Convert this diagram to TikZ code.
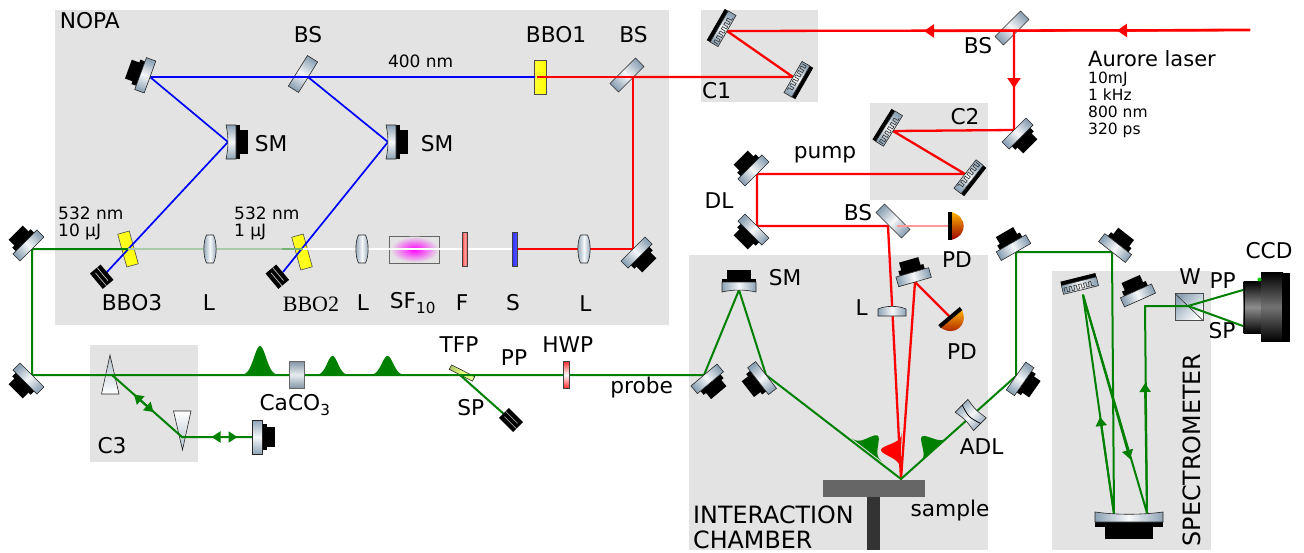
\documentclass[tikz,border=0pt]{standalone}
\usepackage{fontspec}
\setmainfont{DejaVu Sans}
\newfontfamily\bboserif{Liberation Serif}
\usepackage{tikz}
\usetikzlibrary{arrows.meta,calc}
\definecolor{panelgray}{HTML}{E3E3E3}
\definecolor{steel}{HTML}{8EA3B5}
\definecolor{beamgreen}{HTML}{008000}
\definecolor{fadegreen}{HTML}{A9CBA9}
\tikzset{
    steelbody/.style={left color=steel, right color=steel, middle color=white!92!steel, shading angle=#1+90, draw=black!85, line width=0.6pt},
    pics/mirror/.style={code={
        \begin{scope}[rotate=#1]
        \fill[black] (-13,-10) rectangle (13,-15);
        \fill[black] (-10,-14) rectangle (10,-23);
        \draw[steelbody=#1] (-17,0) rectangle (17,-10);
        \end{scope}}},
    pics/cmirror/.style={code={
        \begin{scope}[rotate=#1]
        \fill[black] (-17,-8) rectangle (17,-11.5);
        \fill[black] (-12,-11) rectangle (12,-20);
        \draw[steelbody=#1] (-17,2) .. controls (-6,-0.6) and (6,-0.6) .. (17,2) -- (17,-8) -- (-17,-8) -- cycle;
        \end{scope}}},
    pics/grating/.style={code={
        \begin{scope}[rotate=#1]
        \fill[black] (-18,-9) rectangle (18,-13);
        \draw[steelbody=#1] (-18,0) rectangle (18,-9);
        \foreach \i in {-16,-11,...,9} {
            \draw[black!80, line width=0.6pt] (\i,-1.5) -- (\i,-6) -- (\i+2.5,-6) -- (\i+2.5,-1.5) -- (\i+5,-1.5);
        }
        \end{scope}}},
    pics/plate/.style={code={
        \draw[steelbody=#1, rotate=#1] (-18,-6) rectangle (18,6);}},
    pics/crystal/.style={code={
        \draw[rotate=#1, left color=yellow!80!white, right color=yellow, shading angle=#1+90, draw=black!70, line width=0.6pt] (-6,-17) rectangle (6,17);}},
    pics/lens/.style={code={
        \draw[steelbody=0] (-3.5,-14) .. controls (-7,-7) and (-7,7) .. (-3.5,14) -- (3.5,14) .. controls (7,7) and (7,-7) .. (3.5,-14) -- cycle;}},
    pics/halflens/.style={code={
        \draw[steelbody=0] (-14,5) -- (14,5) -- (14,-2) .. controls (7,-5.5) and (-7,-5.5) .. (-14,-2) -- cycle;}},
    pics/dump/.style={code={
        \begin{scope}[rotate=#1]
        \fill[black] (-10,-7) rectangle (10,7);
        \draw[black!25, line width=0.7pt] (-10,-2.3) -- (7,-2.3) (-7,2.3) -- (10,2.3);
        \end{scope}}},
    pics/pdiode/.style={code={
        \begin{scope}[rotate=#1]
        \shade[top color=orange!60!yellow, bottom color=red!60!black] (-14,-3) .. controls (-10,-20) and (10,-20) .. (14,-3) -- cycle;
        \fill[black] (-14,0) rectangle (14,-4);
        \end{scope}}},
    pics/adl/.style={code={
        \begin{scope}[rotate=#1]
        \draw[steelbody=#1] (-13,-9) .. controls (0,-7) .. (13,-9) -- (13,9) .. controls (0,7) .. (-13,9) -- cycle;
        \draw[black, line width=0.8pt] (-13,-1) .. controls (0,3) .. (13,-1);
        \end{scope}}},
    pics/gauss/.style={code={
        \path[pic actions] plot[domain=-1:1, samples=40, smooth] (\x,{-exp(-5*\x*\x)}) -- cycle;}}
}
\begin{document}
\begin{tikzpicture}[
    x=1pt, y=-1pt,
    every node/.style={inner sep=0pt},
    lab/.style={font=\fontsize{21.7}{24}\selectfont},
    biglab/.style={font=\fontsize{23.8}{25}\selectfont},
    smalllab/.style={font=\fontsize{17}{17}\selectfont, align=left},
    infolab/.style={font=\fontsize{15.5}{17}\selectfont, align=left},
    panel/.style={fill=panelgray},
    redbeam/.style={draw=red, line width=2.3pt, line join=round},
    bluebeam/.style={draw=blue, line width=1.7pt, line join=round},
    greenbeam/.style={draw=beamgreen, line width=2pt, line join=round},
    redtip/.style={-{Triangle[length=10pt,width=13pt]}},
    greentip/.style={-{Triangle[length=9pt,width=11pt]}},
    greenpulse/.style={fill=beamgreen}
]
\useasboundingbox (0,0) rectangle (1304,552);
% panels
\fill[panel] (55,10) rectangle (669,325);
\fill[panel] (701,10) rectangle (818,102);
\fill[panel] (870,103) rectangle (988,200);
\fill[panel] (90,345) rectangle (198,462);
\fill[panel] (689,255) rectangle (988,550);
\fill[panel] (1052,271) rectangle (1211,550);
% beam corners
\coordinate (laser) at (1250,30);
\coordinate (splita) at (1014,31);
\coordinate (gratea) at (727,31);
\coordinate (grateb) at (793,77);
\coordinate (splitb) at (633,77);
\coordinate (bboone) at (537,77);
\coordinate (bboedge) at (535,77);
\coordinate (splitc) at (308,77);
\coordinate (turnb) at (150,77);
\coordinate (sma) at (228,142);
\coordinate (smb) at (388,142);
\coordinate (dumpa) at (106,273);
\coordinate (dumpb) at (283,272);
\coordinate (turna) at (633,249);
\coordinate (shaper) at (515,249);
\coordinate (fadeb) at (303,249);
\coordinate (fadea) at (282,249);
\coordinate (bbothree) at (128,249);
\coordinate (inleft) at (32,249);
\coordinate (inlow) at (32,375);
\coordinate (probein) at (704,375);
\coordinate (prisma) at (112,375);
\coordinate (prismb) at (182,437);
\coordinate (retro) at (252,437);
\coordinate (tfp) at (460,375);
\coordinate (dumpc) at (505,415);
\coordinate (smc) at (739,290);
\coordinate (foldb) at (766,375);
\coordinate (spot) at (901,479);
\coordinate (folda) at (1016,376);
\coordinate (foldc) at (1016,252);
\coordinate (foldd) at (1112,252);
\coordinate (specm) at (1114,514);
\coordinate (gratee) at (1083,295);
\coordinate (specn) at (1147,513);
\coordinate (specf) at (1145,306);
\coordinate (wolla) at (1188,306);
\coordinate (ccdpp) at (1243,290);
\coordinate (ccdsp) at (1243,326);
\coordinate (foldp) at (1014,130);
\coordinate (gratec) at (893,131);
\coordinate (grated) at (965,174);
\coordinate (dlt) at (757,174);
\coordinate (dlb) at (757,226);
\coordinate (splitd) at (888,226);
\coordinate (pdone) at (948,226);
\coordinate (pumpm) at (915,282);
\coordinate (pdtwo) at (949,316);
% plates under the beams
\pic at (303,74) {plate=58};
\pic at (627,75) {plate=45};
\pic at (1012,28) {plate=45};
\pic at (893,221) {plate=-45};
\pic at (540.5,77) {crystal=0};
\pic at (128,249) {crystal=15.5};
\pic at (302,252) {crystal=15.5};
\draw[draw=black!60, line width=0.7pt, fill=panelgray] (389.5,236) rectangle (439.5,263);
\shade[inner color=magenta, outer color=panelgray] (414.5,249.5) ellipse (24 and 13);
\draw[steelbody=-27, rotate around={-27:(462,373)}, left color=lime!60!black!60, right color=lime!40!white, middle color=lime!50!white] (449,370.5) rectangle (475,375.5);
\draw[top color=steel!70, bottom color=white, draw=black!85, line width=0.6pt] (110,355) -- (119,394) -- (101.5,394) -- cycle;
\draw[top color=white, bottom color=steel!70, draw=black!85, line width=0.6pt] (182.5,450) -- (191,411) -- (173.5,411) -- cycle;
\draw[left color=steel, right color=white, draw=black!70, line width=0.7pt, shading angle=45] (1175,293.5) rectangle (1203,320.5);
\draw[black!80, line width=0.6pt] (1175,293.5) -- (1203,320.5);
% red beams
\draw[redbeam] (laser) -- (gratea) -- (grateb) -- (splitb);
\draw[redbeam] (bboone) -- (splitb) -- (turna) -- (shaper);
\draw[redbeam, redtip] (laser) -- (1117,30.5);
\draw[redbeam, redtip] (laser) -- (924,31);
\draw[redbeam, redtip] (splita) -- (1014,88);
\draw[redbeam] (splita) -- (foldp) -- (gratec) -- (grated) -- (dlt) -- (dlb) -- (splitd) -- (spot) -- (pumpm) -- (pdtwo);
\draw[draw=red!40, line width=2pt] (897,226) -- (pdone);
% blue beams
\draw[bluebeam] (bboedge) -- (turnb) -- (sma) -- (dumpa);
\draw[bluebeam] (splitc) -- (smb) -- (dumpb);
% green beams
\draw[draw=white, line width=1.6pt] (fadeb) -- (shaper);
\draw[draw=fadegreen, line width=2pt] (bbothree) -- (fadea);
\draw[draw=fadegreen!70!beamgreen, line width=2pt] (fadea) -- (fadeb);
\draw[greenbeam] (bbothree) -- (inleft) -- (inlow) -- (probein) -- (smc) -- (foldb) -- (spot) -- (folda) -- (foldc) -- (foldd) -- (specm) -- (gratee) -- (specn) -- (specf) -- (wolla) -- (ccdpp);
\draw[greenbeam] (wolla) -- (ccdsp);
\draw[greenbeam] (prisma) -- (prismb) -- (retro);
\draw[greenbeam] (tfp) -- (dumpc);
\draw[greenbeam, greentip] (143.5,403) -- (134,394.5);
\draw[greenbeam, greentip] (143.5,403) -- (153.5,412);
\draw[greenbeam, greentip] (224.5,437) -- (211.5,437);
\draw[greenbeam, greentip] (224.5,437) -- (237.5,437);
\draw[greenbeam, greentip] (specm) -- (1100,417);
\draw[greenbeam, greentip] (gratee) -- (1130,459);
\draw[greenbeam, greentip] (specn) -- (1145,383);
% pulses
\pic[greenpulse, xscale=19, yscale=29] at (260,375) {gauss};
\pic[greenpulse, xscale=17, yscale=19] at (332.5,375) {gauss};
\pic[greenpulse, xscale=18, yscale=19] at (387.5,375) {gauss};
\pic[greenpulse, rotate=-37.6, xscale=19, yscale=18] at (866.7,450) {gauss};
\pic[greenpulse, rotate=41.9, xscale=19, yscale=18] at (934,450) {gauss};
\pic[fill=red, rotate=87, xscale=18, yscale=20] at (901,451) {gauss};
% optics over the beams
\pic at (turnb) {mirror=70};
\pic at (sma) {cmirror=-90};
\pic at (smb) {cmirror=-90};
\pic at (inleft) {mirror=45};
\pic at (inlow) {mirror=135};
\pic at (turna) {mirror=-135};
\pic at (retro) {mirror=-90};
\pic at (foldp) {mirror=-135};
\pic at (dlt) {mirror=45};
\pic at (dlb) {mirror=135};
\pic at (probein) {mirror=-140};
\pic at (smc) {cmirror=0};
\pic at (foldb) {mirror=128};
\pic at (pumpm) {mirror=16};
\pic at (folda) {mirror=-125};
\pic at (foldc) {mirror=30};
\pic at (foldd) {mirror=-38};
\pic at (1140,300) {mirror=24};
\begin{scope}[shift={(1129,513)}]
\fill[black] (-34,9) rectangle (34,14);
\fill[black] (-24,13) rectangle (24,26);
\draw[steelbody=0] (-34,-1) .. controls (-12,2) and (12,2) .. (34,-1) -- (34,9) -- (-34,9) -- cycle;
\end{scope}
\pic at (gratea) {grating=60};
\pic at (grateb) {grating=-120};
\pic at (gratec) {grating=58};
\pic at (grated) {grating=-128};
\pic at (1081,290) {grating=14};
\pic at (210,249) {lens};
\pic at (362,249) {lens};
\pic at (584,249) {lens};
\pic at (892,311) {halflens};
\pic at (101.7,276.7) {dump=-50};
\pic at (277.3,276.7) {dump=-50};
\pic at (511,420) {dump=-45};
\pic at (pdone) {pdiode=-90};
\pic at (pdtwo) {pdiode=-140};
\pic at (970.7,415) {adl=-45};
\draw[left color=red!80!white, right color=red!80!white, middle color=red!35!white, draw=black!75, line width=0.5pt] (462,232) rectangle (467.5,266.5);
\draw[left color=blue!80!white, right color=blue!65!white, draw=black!75, line width=0.5pt] (512.5,232) rectangle (517.5,266.5);
\draw[top color=red!85!white, bottom color=red!85!white, middle color=white, draw=black!75, line width=0.5pt] (563.5,361) rectangle (569,388.5);
\draw[top color=steel!90!black, bottom color=steel!90!black, middle color=white!80!steel, draw=black!60, line width=0.5pt] (289.5,361) rectangle (304.5,388.5);
% sample and camera
\fill[black!60] (823,480) rectangle (925,497);
\fill[black!80] (867,497) rectangle (880,550);
\shade[top color=black, bottom color=black, middle color=black!45] (1243.5,281) rectangle (1261,333.5);
\shade[top color=black, bottom color=black, middle color=black!55] (1261,272.5) rectangle (1283,341.5);
\fill[black] (1282,272.5) rectangle (1290,341.5);
\fill[black] (1243.5,281) rectangle (1245,333.5);
\fill[green!80!black] (1259.5,279.5) circle (2);
% labels
\node[lab] (nopa) at (89.7,21) {NOPA};
\node[lab] (bsa) at (308,35) {BS};
\node[smalllab] (blueline) at (420.7,61) {400 nm};
\node[lab] (bbo1) at (556,35) {BBO1};
\node[lab] (bsb) at (633.5,35) {BS};
\node[lab] (smleft) at (271,144) {SM};
\node[lab] (smright) at (437,144) {SM};
\node[smalllab, anchor=west] (seedhigh) at (58,223.5) {532 nm\\10 µJ};
\node[smalllab, anchor=west] (seedlow) at (234,223.5) {532 nm\\1 µJ};
\node[lab] (bbo3) at (132,303) {BBO3};
\node[lab] (lensa) at (209,303) {L};
\node[font=\bboserif\fontsize{22}{24}\selectfont] (bbo2) at (311,304) {BBO2};
\node[lab] (lensb) at (363,303) {L};
\node[lab] (sften) at (413,303) {SF\textsubscript{10}};
\node[lab] (filt) at (462,303) {F};
\node[lab] (shap) at (513,303) {S};
\node[lab] (lensc) at (585.5,304) {L};
\node[lab] (cone) at (716.7,91) {C1};
\node[lab] (bsc) at (978,46) {BS};
\node[lab] (ctwo) at (965,117) {C2};
\node[lab] (pump) at (825,155) {pump};
\node[lab] (dl) at (719,201) {DL};
\node[lab] (bsd) at (858,213) {BS};
\node[lab] (pdup) at (957,260) {PD};
\node[lab] (pddown) at (962,352) {PD};
\node[lab] (smcham) at (785,278) {SM};
\node[lab] (lensd) at (861.7,308) {L};
\node[lab] (adl) at (981.7,446.7) {ADL};
\node[lab] (samp) at (950,510.7) {sample};
\node[biglab, anchor=west] (inter) at (693,515) {INTERACTION};
\node[biglab, anchor=west] (cham) at (693,540) {CHAMBER};
\node[lab] (caco) at (295,405) {CaCO\textsubscript{3}};
\node[lab] (cthree) at (112,446) {C3};
\node[lab] (tfplab) at (459,345) {TFP};
\node[lab] (pplab) at (514,358) {PP};
\node[lab] (splab) at (470.7,408) {SP};
\node[lab] (hwp) at (567.7,345) {HWP};
\node[lab] (probe) at (641.7,388) {probe};
\node[lab] (wol) at (1190,277) {W};
\node[lab] (ppccd) at (1222.7,281) {PP};
\node[lab] (spccd) at (1222,331) {SP};
\node[lab] (ccd) at (1269,251) {CCD};
\node[biglab, rotate=90] (spec) at (1192,450) {SPECTROMETER};
\node[font=\fontsize{21}{23}\selectfont, anchor=west] (aurore) at (1088,59) {Aurore laser};
\node[infolab, anchor=north west] (specs) at (1088,71.5) {10mJ\\1 kHz\\800 nm\\320 ps};
\end{tikzpicture}
\end{document}
